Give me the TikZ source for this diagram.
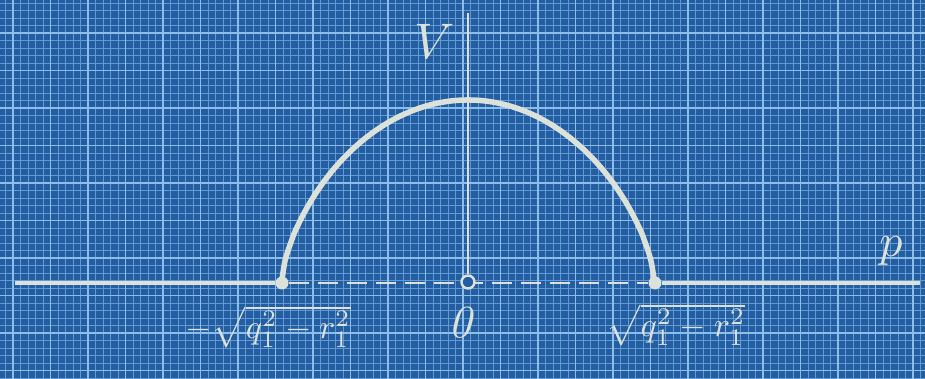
\documentclass[tikz,border=0pt]{standalone}
\usepackage{xcolor}
\definecolor{bg}{RGB}{36,94,160}
\definecolor{gridminor}{RGB}{96,155,214}
\definecolor{gridmajor}{RGB}{140,190,236}
\definecolor{chalk}{RGB}{220,226,218}
\begin{document}
\begin{tikzpicture}[x=1pt,y=1pt,
  minorline/.style={gridminor, line width=0.9pt},
  majorline/.style={gridmajor, line width=1.3pt},
  axisline/.style={chalk, line width=4pt},
  vaxisline/.style={chalk, line width=2.8pt},
  dashaxis/.style={chalk, line width=2.8pt, dash pattern=on 20pt off 9pt},
  curveline/.style={chalk, line width=5.5pt, line cap=round},
  enddot/.style={circle, fill=chalk, inner sep=0pt, minimum size=13pt},
  origin/.style={circle, draw=chalk, fill=bg, line width=2.4pt, inner sep=0pt, minimum size=13pt},
  lbl/.style={text=chalk, inner sep=0pt}]
\fill[bg] (0,0) rectangle (925,379);
\useasboundingbox (0,0) rectangle (925,379);
% grid
\foreach \i in {0,...,124} \draw[minorline] ({\i*7.5+5.5},0) -- ++(0,379);
\foreach \j in {0,...,51} \draw[minorline] (0,{\j*7.5+1}) -- ++(925,0);
\foreach \i in {0,...,24} \draw[majorline] ({\i*37.5+13},0) -- ++(0,379);
\foreach \j in {0,...,10} \draw[majorline] (0,{\j*37.5+8.5}) -- ++(925,0);
% points
\coordinate (L) at (15,96);
\coordinate (R) at (920,96);
\coordinate (T) at (468,366);
\node[enddot] (A) at (282,96) {};
\node[enddot] (B) at (655,96) {};
% axes
\draw[axisline] (L) -- (A);
\draw[axisline] (B) -- (R);
\draw[dashaxis] (A) -- (B);
\node[origin] (O) at (468,97) {};
\draw[vaxisline] (T) -- (O.north);
% curve
\draw[curveline] plot[domain=-1:1, samples=121, smooth]
  ({468+186.5*\x}, {96+183*(max(1-(\x)*(\x),0.00001))^0.65});
% labels
\node[lbl, scale=5] (Vl) at (435,338) {$V$};
\node[lbl, scale=4.6] (pl) at (891,128) {$p$};
\node[lbl, scale=4.6] (zl) at (463,56) {$\mathit{0}$};
\node[lbl, scale=3.4] (ml) at (268,52) {$-\sqrt{q_1^2-r_1^2}$};
\node[lbl, scale=3.4] (pl2) at (676,54) {$\sqrt{q_1^2-r_1^2}$};
\end{tikzpicture}
\end{document}
